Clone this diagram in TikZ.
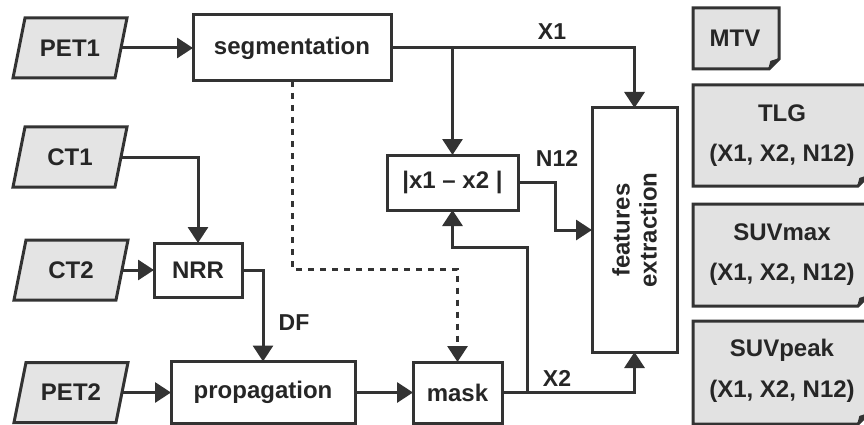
\documentclass[tikz,border=0pt]{standalone}
\usepackage{fontspec}
\setmainfont{Liberation Sans}
\usetikzlibrary{arrows.meta}
\definecolor{linec}{HTML}{333333}
\definecolor{txtc}{HTML}{262626}
\definecolor{parafill}{HTML}{E4E4E4}
\definecolor{docfill}{HTML}{E2E2E2}
\tikzset{
  boxnode/.style={draw=linec, line width=3pt, fill=white, inner sep=0pt, outer sep=0pt, text=txtc, font=\fontsize{24}{26}\selectfont\bfseries},
  paratext/.style={inner sep=0pt, outer sep=0pt, minimum width=102pt, minimum height=60pt, text=txtc, font=\fontsize{24}{26}\selectfont\bfseries},
  parastyle/.style={draw=linec, line width=3pt, fill=parafill, line join=miter},
  docstyle/.style={draw=linec, line width=3pt, fill=docfill, line join=miter},
  foldstyle/.style={draw=linec, fill=linec, line width=1.5pt, line join=round},
  doctext/.style={inner sep=0pt, text=txtc, font=\fontsize{24}{26}\selectfont\bfseries},
  lbl/.style={inner sep=0pt, text=txtc, font=\fontsize{23}{26}\selectfont\bfseries},
  conn/.style={draw=linec, line width=3pt},
  arr/.style={conn, -{Triangle[length=16pt,width=20pt]}},
  darr/.style={arr, dash pattern=on 6pt off 6pt},
}
\newcommand{\paranode}[4]{%
  \draw[parastyle] ({#2-45},{#3-30}) -- ({#2+57},{#3-30}) -- ({#2+45},{#3+30}) -- ({#2-57},{#3+30}) -- cycle;
  \node[paratext] (#1) at (#2,#3) {#4};
}
\begin{document}
\begin{tikzpicture}[x=1pt,y=-1pt]
\useasboundingbox (0,0) rectangle (864,425);
\fill[white] (0,0) rectangle (864,425);

% inputs
\paranode{pet1}{70}{48}{PET1}
\paranode{ct1}{70}{157}{CT1}
\paranode{ct2}{71}{270}{CT2}
\paranode{pet2}{71}{392.5}{PET2}

% boxes
\node[boxnode, minimum width=198pt, minimum height=66pt] (seg) at (292,48) {segmentation};
\node[boxnode, minimum width=88pt, minimum height=54pt] (nrr) at (198,270) {NRR};
\node[boxnode, minimum width=184pt, minimum height=62pt] (prop) at (263,392.5) {propagation};
\node[boxnode, minimum width=89pt, minimum height=61pt] (mask) at (457.5,392.5) {mask};
\node[boxnode, minimum width=131pt, minimum height=55pt] (diff) at (452.5,182.5) {|x1 – x2 |};
\node[boxnode, minimum width=85pt, minimum height=244pt] (feat) at (634.5,230) {};
\node[inner sep=0pt, text=txtc, font=\fontsize{24}{27}\selectfont\bfseries, rotate=90, align=center] (feattxt) at (634.5,230) {features\\extraction};

% documents
\draw[docstyle] (693,8) -- (779,8) -- (779,59) -- (769,69) -- (693,69) -- cycle;
\draw[foldstyle] (769,69) -- (771,61.5) -- (779,59) -- cycle;
\node[doctext] (mtv) at (735,38) {MTV};

\draw[docstyle] (693,85) -- (868,85) -- (868,176) -- (858,186) -- (693,186) -- cycle;
\draw[foldstyle] (858,186) -- (860,178.5) -- (868,176) -- cycle;
\node[doctext] (tlg) at (782,113) {TLG};
\node[doctext] (tlgx) at (782,155) {(X1, X2, N12)};

\draw[docstyle] (693,204) -- (868,204) -- (868,296) -- (858,306) -- (693,306) -- cycle;
\draw[foldstyle] (858,306) -- (860,298.5) -- (868,296) -- cycle;
\node[doctext] (suvmax) at (782,232) {SUVmax};
\node[doctext] (suvmaxx) at (782,274) {(X1, X2, N12)};

\draw[docstyle] (693,321) -- (868,321) -- (868,414) -- (858,424) -- (693,424) -- cycle;
\draw[foldstyle] (858,424) -- (860,416.5) -- (868,414) -- cycle;
\node[doctext] (suvpeak) at (782,350) {SUVpeak};
\node[doctext] (suvpeakx) at (782,391) {(X1, X2, N12)};

% helper coordinates
\coordinate (j1) at (452.5,48);
\coordinate (n1) at (555,230);
\coordinate (j2) at (527,392.5);
\coordinate (j3) at (527,247);
\coordinate (d1) at (457.5,269);

% connectors
\draw[arr] (pet1.east) -- (seg.west);
\draw[arr] (seg.east) -| (feat.north);
\draw[arr] (j1) -- (diff.north);
\draw[arr] (diff.east) -| (n1) -- (feat.west);
\draw[arr] (mask.east) -| (feat.south);
\draw[arr] (j2) -- (j3) -| (diff.south);
\draw[darr] (seg.south) |- (d1) -- (mask.north);
\draw[arr] (ct1.east) -| (nrr.north);
\draw[arr] (ct2.east) -- (nrr.west);
\draw[arr] (nrr.east) -| (prop.north);
\draw[arr] (pet2.east) -- (prop.west);
\draw[arr] (prop.east) -- (mask.west);

% labels
\node[lbl] (lx1) at (552,32) {X1};
\node[lbl] (ln12) at (557,158) {N12};
\node[lbl] (lx2) at (557,378) {X2};
\node[lbl] (ldf) at (294,323) {DF};
\end{tikzpicture}
\end{document}
